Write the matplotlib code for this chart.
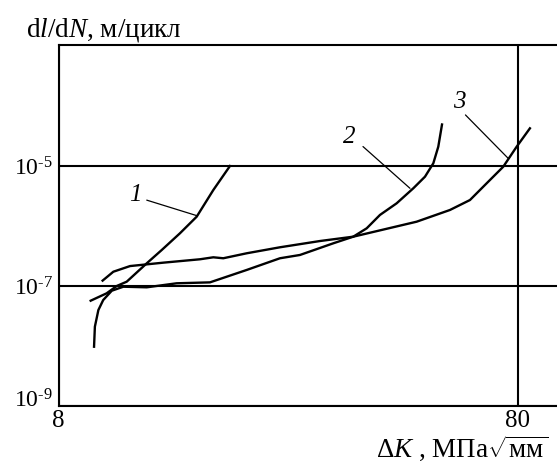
import numpy as np
import matplotlib
matplotlib.use("Agg")
import matplotlib.pyplot as plt
import matplotlib.transforms as mtransforms
from matplotlib.ticker import FixedLocator, FixedFormatter, NullLocator

# Kurve 1
k1 = [9.40, 10.18, 10.71, 11.26, 12.45, 13.42, 14.70, 15.99, 17.38, 18.89]
v1 = [5.69e-8, 7.55e-8, 1.0e-7, 1.18e-7, 2.39e-7, 3.98e-7, 7.55e-7, 1.43e-6, 3.98e-6, 1.0e-5]

# Kurve 2
k2 = [9.56, 9.60, 9.77, 10.01, 10.45, 11.07, 12.45, 14.46, 17.09, 20.54, 24.27, 26.83,
      31.71, 35.05, 37.49, 40.07, 43.56, 47.35, 50.21, 52.35, 53.67, 54.68]
v2 = [9.73e-9, 2.10e-8, 3.98e-8, 5.84e-8, 8.35e-8, 9.73e-8, 9.51e-8, 1.11e-7, 1.15e-7,
      1.85e-7, 2.90e-7, 3.29e-7, 5.15e-7, 6.64e-7, 9.16e-7, 1.53e-6, 2.39e-6, 4.25e-6,
      6.64e-6, 1.11e-5, 2.10e-5, 4.92e-5]

# Kurve 3
k3 = [9.98, 10.53, 11.45, 13.53, 16.26, 17.38, 18.27, 20.54, 24.27, 29.66, 35.05,
      48.15, 56.90, 62.90, 68.39, 74.32, 79.49, 84.95]
v3 = [1.23e-7, 1.73e-7, 2.15e-7, 2.45e-7, 2.79e-7, 3.01e-7, 2.90e-7, 3.51e-7, 4.42e-7,
      5.62e-7, 6.64e-7, 1.18e-6, 1.85e-6, 2.71e-6, 5.15e-6, 9.73e-6, 2.10e-5, 4.25e-5]

# Beschriftungen der Kurven: Text, Textposition, Startpunkt und Endpunkt der Linie
labels = ["1", "2", "3"]
label_pos = [(11.75, 3.3e-6), (34.3, 3.1e-5), (59.6, 1.15e-4)]
leader_start = [(12.45, 2.7e-6), (36.8, 2.11e-5), (61.5, 7.1e-5)]
leader_end = [(15.99, 1.49e-6), (46.57, 4.25e-6), (76.2, 1.34e-5)]

xticks = [8, 80]
xticklabels = ["8", "80"]
yticks = [1e-9, 1e-7, 1e-5]
yticklabels = [r"$\mathregular{10^{\text{-}9}}$", r"$\mathregular{10^{\text{-}7}}$",
               r"$\mathregular{10^{\text{-}5}}$"]

plt.rcParams["font.family"] = ["Liberation Serif", "DejaVu Serif"]
plt.rcParams["mathtext.fontset"] = "custom"
plt.rcParams["mathtext.rm"] = "Liberation Serif"
plt.rcParams["mathtext.it"] = "Liberation Serif:italic"

fig = plt.figure(figsize=(5.57, 4.63), dpi=100)
ax = fig.add_axes([58.5 / 557, 57 / 463, 1 - 58.5 / 557, 361 / 463])

ax.plot(k1, v1, color="black", lw=1.7)
ax.plot(k2, v2, color="black", lw=1.7)
ax.plot(k3, v3, color="black", lw=1.7)

for txt, pos, p0, p1 in zip(labels, label_pos, leader_start, leader_end):
    ax.text(pos[0], pos[1], txt, fontsize=18, style="italic", ha="center", va="center")
    ax.annotate("", xy=p1, xytext=p0,
                arrowprops=dict(arrowstyle="-", color="black", lw=0.9, shrinkA=0, shrinkB=0))

ax.set_xscale("log")
ax.set_yscale("log")
ax.set_xlim(8, 97.3)
ax.set_ylim(1e-9, 10 ** -2.983)

ax.xaxis.set_major_locator(FixedLocator(xticks))
ax.xaxis.set_major_formatter(FixedFormatter(xticklabels))
ax.xaxis.set_minor_locator(NullLocator())
ax.yaxis.set_major_locator(FixedLocator(yticks))
ax.yaxis.set_major_formatter(FixedFormatter(yticklabels))
ax.yaxis.set_minor_locator(NullLocator())
ax.tick_params(length=0)
ax.tick_params(axis="x", pad=3, labelsize=18)
ax.tick_params(axis="y", pad=4, labelsize=17)

# unterstes y-Label etwas nach oben schieben (wie im Original)
lowest = ax.yaxis.get_major_ticks()[0].label1
lowest.set_transform(lowest.get_transform()
                     + mtransforms.ScaledTranslation(0, 8 / 100, fig.dpi_scale_trans))

# Gitterlinien bei 1e-5, 1e-7 und 80
ax.grid(True, color="black", lw=1.5)
for s in ["left", "bottom", "top"]:
    ax.spines[s].set_linewidth(1.5)
ax.spines["right"].set_visible(False)

fig.text(26.5 / 557, 1 - 36 / 463, r"d$\mathit{l}$/d$\mathit{N}$, м/цикл",
         fontsize=19.5, ha="left", va="baseline")
fig.text(376 / 557, 6.5 / 463, r"$\Delta \mathit{K}$ , МПа$\sqrt{\mathrm{мм}}$",
         fontsize=19.5, ha="left", va="baseline")

plt.savefig("out.png", dpi=100)
